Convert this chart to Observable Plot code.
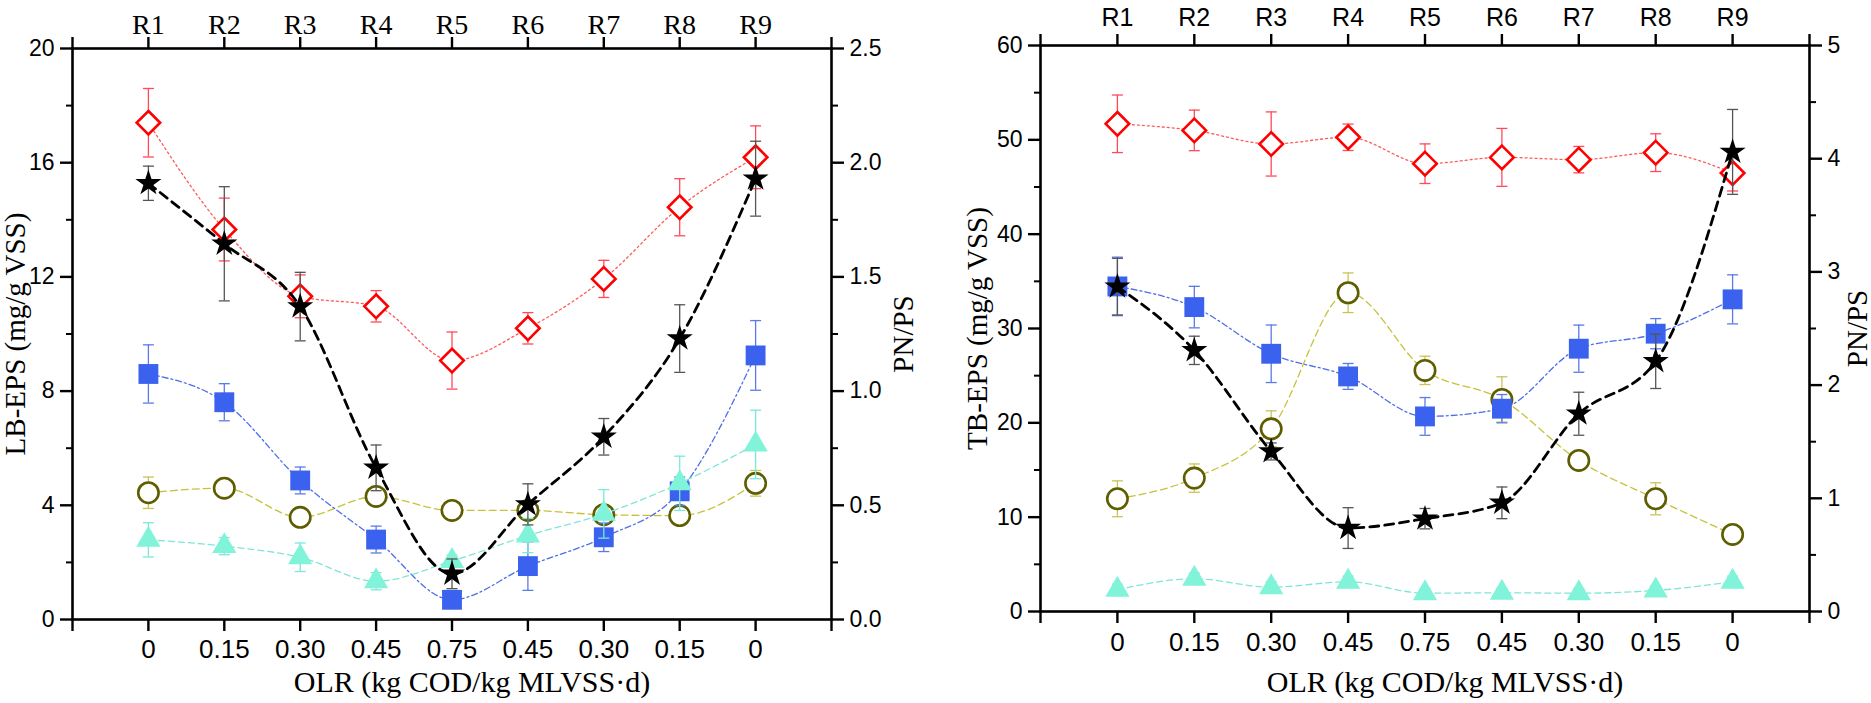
<!DOCTYPE html>
<html><head><meta charset="utf-8">
<script src="https://cdn.jsdelivr.net/npm/d3@7"></script>
<script src="https://cdn.jsdelivr.net/npm/@observablehq/plot@0.6"></script>
<style>
html,body{margin:0;padding:0;background:#fff;overflow:hidden;}
#root{position:relative;width:1871px;height:703px;}
#root svg{position:absolute;top:0;overflow:visible;}
</style></head><body><div id="root"></div>
<script>
// ---------- data ----------
const reactors = ["R1","R2","R3","R4","R5","R6","R7","R8","R9"];
const olrLabels = ["0","0.15","0.30","0.45","0.75","0.45","0.30","0.15","0"];

// Left panel: LB-EPS (mg/g VSS) and PN/PS
const lbDiamond      = [17.4, 13.66, 11.32, 10.97, 9.07, 10.2, 11.93, 14.44, 16.19];
const lbDiamondErr   = [1.2, 1.1, 0.75, 0.55, 1.0, 0.55, 0.65, 1.0, 1.1];
const lbSquare       = [8.6, 7.61, 4.87, 2.8, 0.69, 1.87, 2.88, 4.49, 9.25];
const lbSquareErr    = [1.02, 0.65, 0.47, 0.47, 0.15, 0.85, 0.5, 0.5, 1.22];
const lbCircle       = [4.44, 4.6, 3.58, 4.31, 3.82, 3.82, 3.67, 3.64, 4.77];
const lbCircleErr    = [0.55, 0.2, 0.2, 0.25, 0.2, 0.2, 0.15, 0.2, 0.45];
const lbTriangle     = [2.79, 2.57, 2.18, 1.34, 2.05, 2.94, 3.7, 4.77, 6.13];
const lbTriangleErr  = [0.6, 0.3, 0.5, 0.3, 0.2, 0.6, 0.85, 0.95, 1.2];
const lbRatio        = [1.91, 1.645, 1.37, 0.664, 0.2, 0.504, 0.80, 1.23, 1.93];
const lbRatioErr     = [0.075, 0.25, 0.15, 0.1, 0.065, 0.09, 0.08, 0.148, 0.164];

// Right panel: TB-EPS (mg/g VSS) and PN/PS
const tbDiamond      = [51.7, 51.0, 49.56, 50.27, 47.47, 48.14, 47.9, 48.64, 46.48];
const tbDiamondErr   = [3.05, 2.15, 3.4, 1.4, 2.1, 3.07, 1.4, 2.0, 1.9];
const tbSquare       = [34.46, 32.27, 27.32, 24.92, 20.68, 21.5, 27.86, 29.45, 33.09];
const tbSquareErr    = [3.1, 2.2, 3.05, 1.37, 2.0, 1.5, 2.5, 1.6, 2.6];
const tbCircle       = [11.95, 14.14, 19.37, 33.79, 25.56, 22.48, 16.01, 11.95, 8.17];
const tbCircleErr    = [1.9, 1.5, 1.9, 2.1, 1.5, 2.4, 0.3, 1.7, 0.3];
const tbTriangle     = [2.3, 3.47, 2.58, 3.15, 1.94, 1.98, 1.94, 2.23, 3.15];
const tbTriangleErr  = [0.6, 0.6, 0.6, 0.6, 0.5, 0.5, 0.5, 0.5, 0.6];
const tbRatio        = [2.87, 2.307, 1.414, 0.737, 0.82, 0.96, 1.747, 2.21, 4.06];
const tbRatioErr     = [0.25, 0.125, 0.075, 0.18, 0.09, 0.14, 0.19, 0.24, 0.375];

// ---------- helpers ----------
const SERIF = "'Liberation Serif','Times New Roman',serif";
const SANS = "'Liberation Sans',Arial,sans-serif";
const rows = (vals, errs) => vals.map((v, i) => ({x: i + 1, v, lo: v - errs[i], hi: v + errs[i]}));
const cap = {draw(ctx, size) { const w = Math.sqrt(size / Math.PI); ctx.moveTo(-w, 0); ctx.lineTo(w, 0); }};

const styles = {
  diamond:  {line: "#ff5a5a", dash: "2,3",     err: "#ff4a5a", symbol: "diamond2", r: 10.6, fill: "white", stroke: "#ff0000", sw: 2.6, lw: 1.3},
  square:   {line: "#4f6fe6", dash: "6,3,2,3", err: "#5a7ae8", symbol: "square",   r: 11.2, fill: "#3a62ee", stroke: "none", sw: 0, lw: 1.3},
  circle:   {line: "#c6c23c", dash: "7,4",     err: "#c8c45a", symbol: "circle",   r: 10.2, fill: "white", stroke: "#5e5e00", sw: 2.6, lw: 1.3},
  triangle: {line: "#7fe6d6", dash: "6,4",     err: "#7ae8d8", symbol: "triangle", r: 9.0,  fill: "#80f3d8", stroke: "none", sw: 0, lw: 1.3},
  star:     {line: "#000000", dash: "9,6",     err: "#555555", symbol: "star",     r: 8.2,  fill: "#000000", stroke: "none", sw: 0, lw: 2.8}
};

function seriesMarks(data, s) {
  return [
    Plot.line(data, {x: "x", y: "v", stroke: s.line, strokeWidth: s.lw, strokeDasharray: s.dash, curve: "monotone-x"}),
    Plot.ruleX(data, {x: "x", y1: "lo", y2: "hi", stroke: s.err, strokeWidth: 1.3}),
    Plot.dot(data, {x: "x", y: "lo", symbol: cap, r: 5.5, stroke: s.err, strokeWidth: 1.3}),
    Plot.dot(data, {x: "x", y: "hi", symbol: cap, r: 5.5, stroke: s.err, strokeWidth: 1.3}),
    Plot.dot(data, {x: "x", y: "v", symbol: s.symbol, r: s.r, fill: s.fill, stroke: s.stroke, strokeWidth: s.sw})
  ];
}

function panel(cfg) {
  const root = document.getElementById("root");
  const common = {
    width: cfg.width, height: 703,
    marginLeft: cfg.ml, marginRight: cfg.mr, marginTop: cfg.mt, marginBottom: cfg.mb,
    x: {domain: [0, 10], label: null},
    style: {background: "transparent", overflow: "visible"}
  };
  const xt = d3.range(0, 11);
  const base = Plot.plot({
    ...common,
    y: {domain: cfg.yDomain, label: null},
    marks: [
      ...seriesMarks(rows(cfg.diamond, cfg.diamondErr), styles.diamond),
      ...seriesMarks(rows(cfg.circle, cfg.circleErr), styles.circle),
      ...seriesMarks(rows(cfg.square, cfg.squareErr), styles.square),
      ...seriesMarks(rows(cfg.triangle, cfg.triangleErr), styles.triangle),
      Plot.frame({stroke: "black", strokeWidth: 2.6}),
      Plot.axisY({anchor: "left", ticks: cfg.yTicks, tickSize: 12, tickPadding: 6, strokeWidth: 2.4,
                  fontSize: 23, fontFamily: SANS, label: null, tickFormat: d => String(d)}),
      Plot.axisY({anchor: "left", ticks: cfg.yMinor, tickSize: 6, strokeWidth: 2, label: null, tickFormat: () => ""}),
      Plot.axisX({anchor: "bottom", ticks: xt, tickSize: 12, tickPadding: cfg.bottomPad, strokeWidth: 2.4,
                  fontSize: 26, fontFamily: SANS, label: null,
                  tickFormat: d => (d >= 1 && d <= 9) ? olrLabels[d - 1] : ""}),
      Plot.axisX({anchor: "top", ticks: xt, tickSize: 12, tickPadding: cfg.topPad, strokeWidth: 2.4,
                  fontSize: cfg.topSize, fontFamily: cfg.topFont, label: null,
                  tickFormat: d => (d >= 1 && d <= 9) ? reactors[d - 1] : ""}),
      Plot.text([cfg.yLabel], {frameAnchor: "left", text: d => d, rotate: -90, dx: cfg.yLabelDx,
                  textAnchor: "middle", lineAnchor: "middle", fontSize: 29, fontFamily: SERIF}),
      Plot.text(["OLR (kg COD/kg MLVSS\u00b7d)"], {frameAnchor: "bottom", text: d => d, dx: 20, dy: cfg.xLabelDy,
                  textAnchor: "middle", lineAnchor: "middle", fontSize: 30, fontFamily: SERIF})
    ]
  });
  const over = Plot.plot({
    ...common,
    x: {domain: [0, 10], axis: null},
    y: {domain: cfg.rDomain, label: null},
    marks: [
      ...seriesMarks(rows(cfg.ratio, cfg.ratioErr), styles.star),
      Plot.axisY({anchor: "right", ticks: cfg.rTicks, tickSize: 12, tickPadding: 6, strokeWidth: 2.4,
                  fontSize: 23, fontFamily: SANS, label: null, tickFormat: cfg.rFormat}),
      Plot.axisY({anchor: "right", ticks: cfg.rMinor, tickSize: 6, strokeWidth: 2, label: null, tickFormat: () => ""}),
      Plot.text(["PN/PS"], {frameAnchor: "right", text: d => d, rotate: -90, dx: cfg.rLabelDx,
                  textAnchor: "middle", lineAnchor: "middle", fontSize: 29, fontFamily: SERIF})
    ]
  });
  base.style.left = cfg.left + "px";
  over.style.left = cfg.left + "px";
  root.appendChild(base);
  root.appendChild(over);
}

panel({
  left: 0, width: 935, ml: 72, mr: 104, mt: 48, mb: 84,
  yDomain: [0, 20], yTicks: [0, 4, 8, 12, 16, 20], yMinor: [2, 6, 10, 14, 18],
  rDomain: [0, 2.5], rTicks: [0, 0.5, 1, 1.5, 2, 2.5], rMinor: [0.25, 0.75, 1.25, 1.75, 2.25],
  rFormat: d3.format(".1f"),
  diamond: lbDiamond, diamondErr: lbDiamondErr, square: lbSquare, squareErr: lbSquareErr,
  circle: lbCircle, circleErr: lbCircleErr, triangle: lbTriangle, triangleErr: lbTriangleErr,
  ratio: lbRatio, ratioErr: lbRatioErr,
  yLabel: "LB-EPS (mg/g VSS)", yLabelDx: -57, rLabelDx: 72, xLabelDy: 63,
  topFont: SERIF, topSize: 28, topPad: 3, bottomPad: 8
});

panel({
  left: 935, width: 936, ml: 105, mr: 62, mt: 45, mb: 92,
  yDomain: [0, 60], yTicks: [0, 10, 20, 30, 40, 50, 60], yMinor: [5, 15, 25, 35, 45, 55],
  rDomain: [0, 5], rTicks: [0, 1, 2, 3, 4, 5], rMinor: [0.5, 1.5, 2.5, 3.5, 4.5],
  rFormat: d => String(d),
  diamond: tbDiamond, diamondErr: tbDiamondErr, square: tbSquare, squareErr: tbSquareErr,
  circle: tbCircle, circleErr: tbCircleErr, triangle: tbTriangle, triangleErr: tbTriangleErr,
  ratio: tbRatio, ratioErr: tbRatioErr,
  yLabel: "TB-EPS (mg/g VSS)", yLabelDx: -63, rLabelDx: 48, xLabelDy: 71,
  topFont: SANS, topSize: 25, topPad: 8, bottomPad: 9
});
</script></body></html>
